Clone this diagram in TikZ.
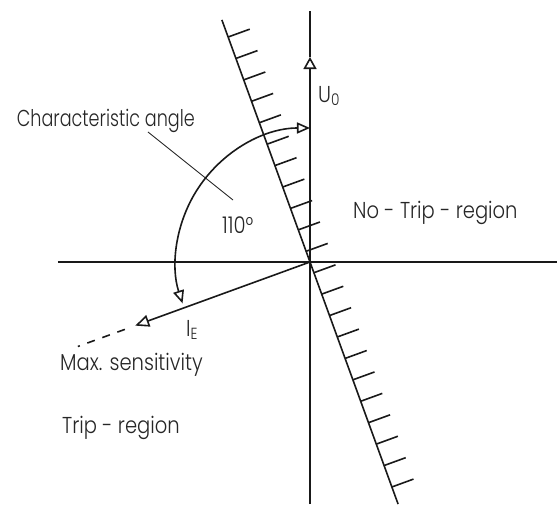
\documentclass[tikz,border=0pt]{standalone}
\usepackage{fontspec}
\setmainfont{Poppins Light}[FakeStretch=0.85]
\usetikzlibrary{arrows.meta}
\begin{document}
\begin{tikzpicture}[x=1pt,y=1pt,
  thick line/.style={line width=1.6pt, draw=black!90},
  thin line/.style={line width=0.8pt, draw=black!90},
  lbl/.style={inner sep=0pt, anchor=base west, text=black!85, font=\fontsize{23}{27}\selectfont}]
\useasboundingbox (-310,-242) rectangle (247,262);
% coordinates
\coordinate (O) at (0,0);
\coordinate (Utip) at (0,205);
\coordinate (Utop) at (0,251);
\coordinate (Ubot) at (0,-242);
\coordinate (Hl) at (-252,0);
\coordinate (Hr) at (247,0);
\coordinate (Etip) at (200:186);
\coordinate (Ed1) at (200:197);
\coordinate (Ed2) at (200:247);
\coordinate (Ht) at (110:257.6);
\coordinate (Hb) at (290:257.6);
\coordinate (A1) at (90:134);
\coordinate (L1) at (-162,130);
\coordinate (L2) at (-77,62);
% axes
\draw[thick line] (Hl) -- (Hr);
\draw[thick line] (Ubot) -- (O);
\draw[thick line, -{Triangle[open, length=12pt, width=13pt]}] (O) -- (Utip);
\draw[thick line] (Utip) -- (Utop);
% hatched boundary
\draw[thick line] (Ht) -- (Hb);
\foreach \k in {0,...,10}{
  \pgfmathsetmacro{\s}{11.4+22.8*\k}
  \draw[thick line] (110:\s) -- ++(20:23);
  \draw[thick line] (290:\s) -- ++(20:23);
}
% I_E phasor
\draw[thick line, -{Triangle[open, length=14pt, width=12pt]}] (O) -- (Etip);
\draw[thick line, dash pattern=on 8pt off 8pt] (Ed1) -- (Ed2);
% characteristic angle arc
\draw[thick line, {Triangle[open, length=13pt, width=11pt]}-{Triangle[open, length=13pt, width=11pt]}] (A1) arc (90:198:134);
% leader
\draw[thin line] (L1) -- (L2);
% labels
\node[lbl, anchor=base east, xscale=0.9, transform shape] (char) at (-115,136) {Characteristic angle};
\node[lbl] (ang) at (-88,29) {110°};
\node[lbl] (notrip) at (43,44) {No - Trip - region};
\node[lbl] (trip) at (-248,-171) {Trip - region};
\node[lbl] (maxs) at (-250,-108) {Max. sensitivity};
\node[lbl] (U) at (8,160) {U\textsubscript{0}};
\node[lbl] (IE) at (-124,-74) {I\textsubscript{E}};
\end{tikzpicture}
\end{document}
